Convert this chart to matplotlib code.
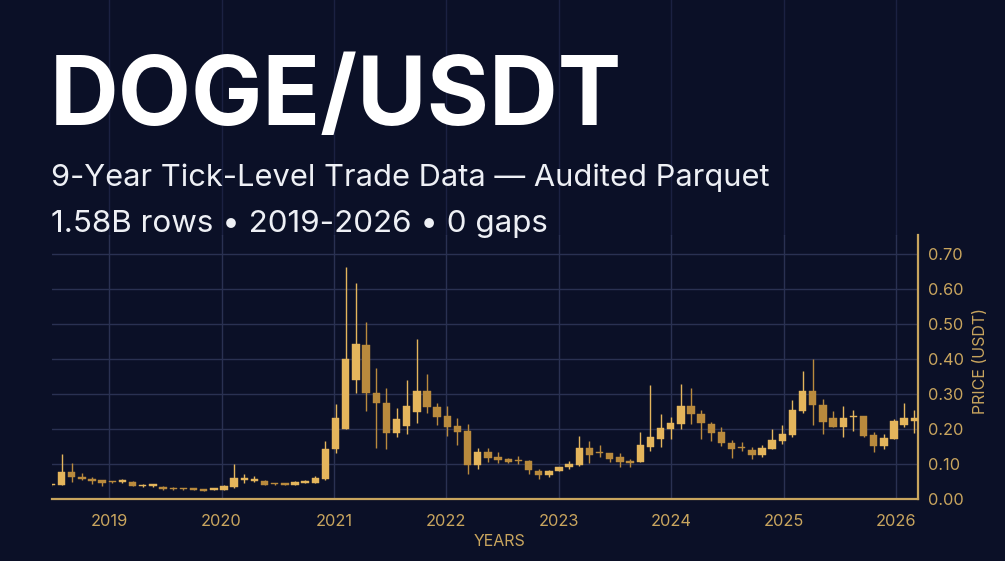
import matplotlib
matplotlib.use("Agg")
import matplotlib.pyplot as plt
import matplotlib.dates as mdates
import numpy as np
import pandas as pd

# ---- data ----
start_date = "2018-06-27"
period_days = 33
opens = [0.040, 0.040, 0.078, 0.064, 0.056, 0.054, 0.050, 0.049, 0.049, 0.036,
         0.038, 0.035, 0.032, 0.030, 0.030, 0.027, 0.026, 0.027, 0.033, 0.055,
         0.052, 0.052, 0.044, 0.043, 0.040, 0.046, 0.047, 0.056, 0.142, 0.200,
         0.339, 0.441, 0.304, 0.274, 0.188, 0.209, 0.248, 0.308, 0.263, 0.238,
         0.209, 0.193, 0.097, 0.133, 0.119, 0.115, 0.110, 0.109, 0.080, 0.069,
         0.080, 0.090, 0.098, 0.146, 0.133, 0.131, 0.119, 0.106, 0.105, 0.148,
         0.171, 0.200, 0.213, 0.267, 0.242, 0.214, 0.191, 0.161, 0.147, 0.141,
         0.125, 0.142, 0.166, 0.183, 0.251, 0.309, 0.268, 0.231, 0.207, 0.233,
         0.238, 0.183, 0.150, 0.171, 0.210, 0.222]
highs = [0.042, 0.128, 0.102, 0.073, 0.064, 0.055, 0.051, 0.057, 0.050, 0.043,
         0.044, 0.036, 0.033, 0.032, 0.031, 0.028, 0.030, 0.039, 0.099, 0.070,
         0.066, 0.053, 0.047, 0.044, 0.051, 0.055, 0.066, 0.166, 0.271, 0.664,
         0.618, 0.505, 0.374, 0.316, 0.260, 0.339, 0.457, 0.356, 0.273, 0.265,
         0.232, 0.215, 0.145, 0.145, 0.135, 0.117, 0.122, 0.110, 0.087, 0.083,
         0.092, 0.108, 0.180, 0.166, 0.153, 0.131, 0.130, 0.115, 0.191, 0.326,
         0.243, 0.235, 0.328, 0.318, 0.254, 0.221, 0.205, 0.169, 0.163, 0.148,
         0.153, 0.199, 0.211, 0.283, 0.365, 0.399, 0.285, 0.251, 0.267, 0.253,
         0.238, 0.191, 0.186, 0.228, 0.273, 0.254]
lows = [0.038, 0.039, 0.049, 0.055, 0.042, 0.037, 0.046, 0.047, 0.037, 0.033,
        0.033, 0.027, 0.027, 0.026, 0.025, 0.022, 0.025, 0.026, 0.032, 0.045,
        0.048, 0.039, 0.039, 0.040, 0.040, 0.045, 0.047, 0.054, 0.132, 0.200,
        0.304, 0.250, 0.146, 0.142, 0.176, 0.186, 0.216, 0.247, 0.212, 0.181,
        0.155, 0.072, 0.086, 0.107, 0.102, 0.104, 0.099, 0.072, 0.058, 0.064,
        0.079, 0.085, 0.094, 0.103, 0.119, 0.106, 0.092, 0.092, 0.105, 0.137,
        0.149, 0.171, 0.200, 0.214, 0.171, 0.167, 0.151, 0.116, 0.136, 0.115,
        0.119, 0.142, 0.158, 0.178, 0.245, 0.211, 0.185, 0.207, 0.178, 0.194,
        0.178, 0.135, 0.142, 0.171, 0.205, 0.188]
closes = [0.041, 0.078, 0.064, 0.056, 0.051, 0.047, 0.048, 0.051, 0.038, 0.039,
          0.042, 0.029, 0.028, 0.028, 0.027, 0.024, 0.029, 0.038, 0.059, 0.057,
          0.056, 0.040, 0.042, 0.041, 0.048, 0.050, 0.059, 0.142, 0.230, 0.401,
          0.444, 0.304, 0.274, 0.189, 0.229, 0.267, 0.309, 0.262, 0.235, 0.207,
          0.191, 0.097, 0.133, 0.116, 0.111, 0.107, 0.108, 0.082, 0.069, 0.080,
          0.091, 0.100, 0.145, 0.126, 0.131, 0.115, 0.106, 0.104, 0.155, 0.176,
          0.203, 0.216, 0.267, 0.243, 0.216, 0.189, 0.161, 0.142, 0.145, 0.126,
          0.146, 0.168, 0.187, 0.254, 0.309, 0.268, 0.221, 0.207, 0.231, 0.235,
          0.180, 0.150, 0.174, 0.224, 0.232, 0.232]
y_ticks = [0.0, 0.1, 0.2, 0.3, 0.4, 0.5, 0.6, 0.7]
title = "DOGE/USDT"
subtitle = "9-Year Tick-Level Trade Data \u2014 Audited Parquet"
subline = "1.58B rows \u2022 2019-2026 \u2022 0 gaps"

# ---- style ----
BG = "#0b1027"
GOLD = "#c9a55e"
UP = "#e4b55c"
DOWN = "#b98a3d"
GRID = "#2a3152"
GRID_FAINT = "#1b2142"

plt.rcParams["font.family"] = ["Inter", "DejaVu Sans"]

fig = plt.figure(figsize=(10.05, 5.61), dpi=100, facecolor=BG)
ax = fig.add_axes([52 / 1005, 62 / 561, 866 / 1005, 264 / 561])
ax.set_facecolor(BG)

dates = pd.date_range(start_date, periods=len(opens), freq=f"{period_days}D")
o = np.array(opens); h = np.array(highs); l = np.array(lows); c = np.array(closes)
up = c >= o
colors = np.where(up, UP, DOWN)
body_bottom = np.minimum(o, c)
body_h = np.maximum(np.abs(c - o), 0.004)

ax.vlines(dates, l, h, colors=colors, linewidth=1.0, zorder=3)
ax.bar(dates, body_h, bottom=body_bottom, width=24, color=colors,
       edgecolor=colors, linewidth=0.3, zorder=4)

ax.set_xlim(pd.Timestamp("2018-06-29"), pd.Timestamp("2026-03-14"))
ax.set_ylim(0, 0.754)

ax.xaxis.set_major_locator(mdates.YearLocator())
ax.xaxis.set_major_formatter(mdates.DateFormatter("%Y"))
ax.set_yticks(y_ticks)
ax.set_yticklabels([f"{v:.2f}" for v in y_ticks])
ax.yaxis.tick_right()
ax.yaxis.set_label_position("right")

ax.tick_params(axis="both", length=0, colors=GOLD, labelsize=11.8)
ax.tick_params(axis="y", pad=7)
ax.tick_params(axis="x", pad=11)

ax.grid(True, color=GRID, linewidth=1.0, zorder=0)
ax.set_axisbelow(True)

for s in ["left", "top"]:
    ax.spines[s].set_visible(False)
for s in ["bottom", "right"]:
    ax.spines[s].set_color(GOLD)
    ax.spines[s].set_linewidth(1.6)

# faint year lines extending above the plot area
for yr in range(2019, 2027):
    ax.axvline(pd.Timestamp(f"{yr}-01-01"), ymin=1.0, ymax=2.2, color=GRID_FAINT,
               linewidth=1.0, clip_on=False, zorder=0)

ax.set_xlabel("YEARS", color=GOLD, fontsize=11.5)
ax.xaxis.set_label_coords((500 - 52) / 866, (499 - 541) / 264)
ax.xaxis.label.set_va("center")
ax.set_ylabel("PRICE (USDT)", color=GOLD, fontsize=11.5, rotation=90)
ax.yaxis.set_label_coords((980 - 52) / 866, (499 - 361) / 264)
ax.yaxis.label.set_va("center")

fig.text(50 / 1005, 1 - 125 / 561, title, color="white", fontsize=68.5,
         fontweight="bold", va="baseline", ha="left")
fig.text(51 / 1005, 1 - 186 / 561, subtitle, color="#eef0f5", fontsize=22.2,
         va="baseline", ha="left")
fig.text(51 / 1005, 1 - 232 / 561, subline, color="#eef0f5", fontsize=22.6,
         va="baseline", ha="left")

fig.savefig("out.png", dpi=100, facecolor=BG)
